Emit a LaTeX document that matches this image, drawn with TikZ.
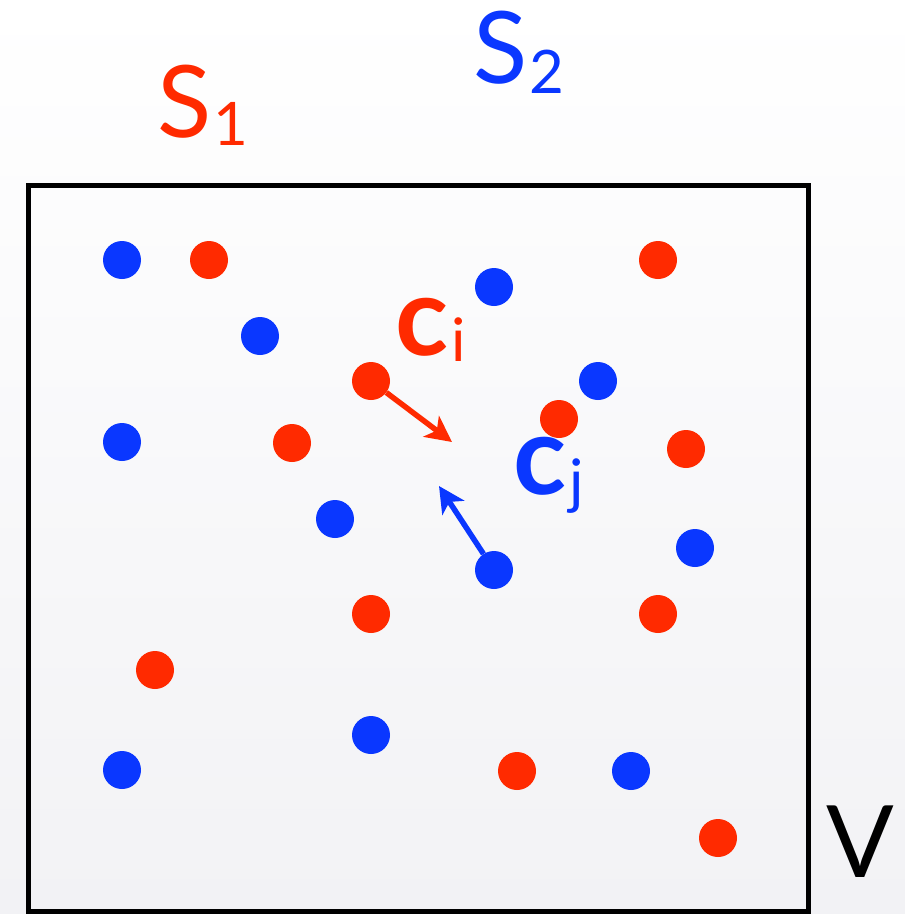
\documentclass[tikz,border=0pt]{standalone}
\usepackage{fontspec}
\setmainfont{Lato}
\usetikzlibrary{arrows.meta}
\definecolor{dred}{RGB}{255,42,0}
\definecolor{dblue}{RGB}{10,55,255}
\definecolor{bgbot}{RGB}{242,242,245}
\tikzset{
  reddot/.style={circle,fill=dred,minimum size=38pt,inner sep=0pt},
  bluedot/.style={circle,fill=dblue,minimum size=38pt,inner sep=0pt},
  bigl/.style={inner sep=0pt,font=\fontsize{100}{100}\selectfont},
  cl/.style={inner sep=0pt,font=\fontsize{110}{110}\selectfont\bfseries},
  arr/.style={line width=5.5pt,-{Stealth[length=26pt,width=26pt,inset=7pt]}}
}
\newcommand{\mysub}[3]{\kern#1\raisebox{-#2}{\mdseries\fontsize{60}{60}\selectfont #3}}
\begin{document}
\begin{tikzpicture}[x=1pt,y=-1pt]
\fill[top color=white,bottom color=bgbot] (0,0) rectangle (905,914);
\useasboundingbox (0,0) rectangle (905,914);
\draw[line width=5pt] (28,185) rectangle (808,911);
% blue dots
\node[bluedot] (b1) at (122,260) {};
\node[bluedot] (b2) at (260,336) {};
\node[bluedot] (b3) at (494,287) {};
\node[bluedot] (b4) at (598,381) {};
\node[bluedot] (b5) at (122,442) {};
\node[bluedot] (b6) at (335,519) {};
\node[bluedot] (b7) at (494,570) {};
\node[bluedot] (b8) at (695,548) {};
\node[bluedot] (b9) at (371,735) {};
\node[bluedot] (b10) at (122,770) {};
\node[bluedot] (b11) at (631,771) {};
% red dots
\node[reddot] (r1) at (209,260) {};
\node[reddot] (r2) at (658,260) {};
\node[reddot] (r3) at (371,381) {};
\node[reddot] (r4) at (559,419) {};
\node[reddot] (r5) at (292,443) {};
\node[reddot] (r6) at (686,449) {};
\node[reddot] (r7) at (371,614) {};
\node[reddot] (r8) at (658,614) {};
\node[reddot] (r9) at (155,670) {};
\node[reddot] (r10) at (517,771) {};
\node[reddot] (r11) at (718,838) {};
% arrows
\coordinate (ti) at (452,442);
\coordinate (tj) at (439,486);
\draw[arr,dred] (r3) -- (ti);
\draw[arr,dblue] (b7) -- (tj);
% labels
\node[bigl,text=dred,anchor=base west] (s1) at (157,137) {S\mysub{2pt}{8pt}{1}};
\node[bigl,text=dblue,anchor=base west] (s2) at (473,83) {S\mysub{2pt}{10pt}{2}};
\node[cl,text=dred,anchor=base west] (ci) at (395,355) {c\mysub{3pt}{6pt}{i}};
\node[cl,text=dblue,anchor=base west] (cj) at (513,494) {c\mysub{3pt}{8pt}{j}};
\node[bigl,anchor=base west] (v) at (826,877) {V};
\end{tikzpicture}
\end{document}
